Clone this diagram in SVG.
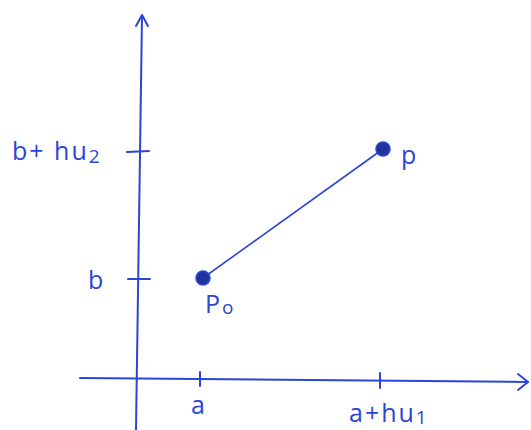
<svg xmlns="http://www.w3.org/2000/svg" width="531" height="430" viewBox="0 0 531 430">
<defs>
<style>
.ax{stroke:#2b45d8;stroke-width:2;fill:none;stroke-linecap:round;stroke-linejoin:round}
.ln{stroke:#2b45d8;stroke-width:1.6;fill:none}
.pt{fill:#22329a;stroke:#2b45d8;stroke-width:1.5}
.t{font-family:"Open Sans","Liberation Sans",sans-serif;fill:#2b45d8;font-size:25px;letter-spacing:2px}
.s{font-size:19px}
</style>
</defs>
<rect width="531" height="430" fill="#ffffff"/>
<g id="connectors">
<path class="ax" d="M80,378 L528,382"/>
<path class="ax" d="M518,374 L528,382 L518,390"/>
<path class="ax" d="M136,430 L142,16"/>
<path class="ax" d="M136,26 L142,15 L148,26"/>
<path class="ax" d="M200,372 L200,386 M380,373 L380,388"/>
<path class="ax" d="M127,152 L149,151 M128,279 L150,279"/>
<path class="ln" d="M203,278 L383,149"/>
</g>
<g id="p0"><circle class="pt" cx="203" cy="278" r="7"/><text class="t" x="205" y="313">P<tspan class="s" dy="1">o</tspan></text></g>
<g id="p"><circle class="pt" cx="383" cy="149" r="7"/><text class="t" x="401" y="164">p</text></g>
<g id="label-b2"><text class="t" x="12" y="160">b+ hu<tspan class="s" dy="3">2</tspan></text></g>
<g id="label-b"><text class="t" x="88" y="289">b</text></g>
<g id="label-a"><text class="t" x="191" y="414">a</text></g>
<g id="label-a1"><text class="t" x="349" y="422">a+hu<tspan class="s" dy="2">1</tspan></text></g>
</svg>
